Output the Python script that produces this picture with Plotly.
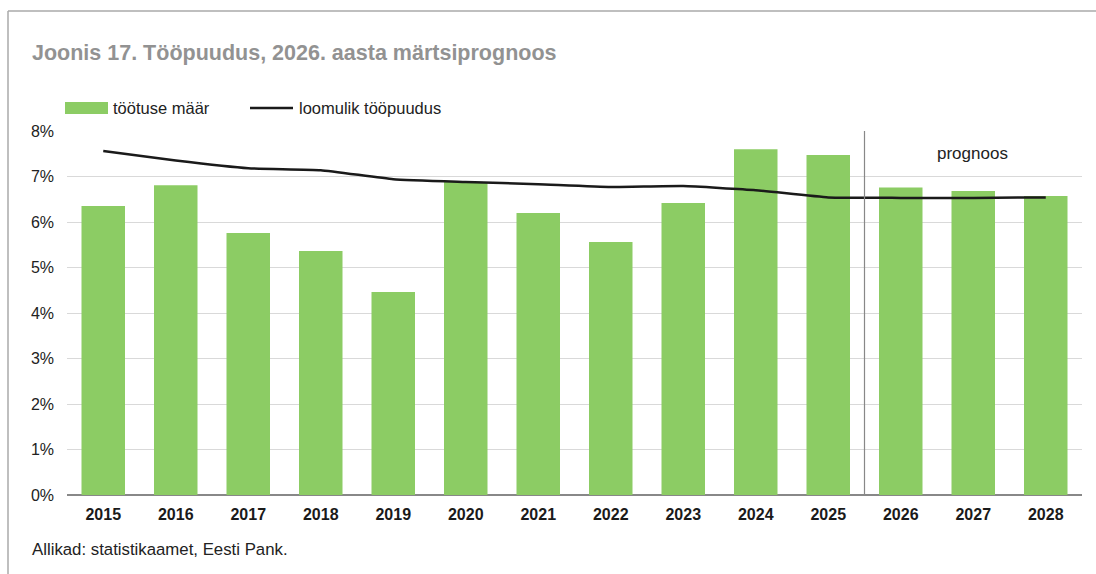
import plotly.graph_objects as go

years = ["2015", "2016", "2017", "2018", "2019", "2020", "2021",
         "2022", "2023", "2024", "2025", "2026", "2027", "2028"]
unemployment = [6.35, 6.81, 5.76, 5.36, 4.46, 6.88, 6.20,
                5.56, 6.42, 7.60, 7.47, 6.76, 6.68, 6.57]
natural_rate = [7.56, 7.35, 7.18, 7.14, 6.94, 6.88, 6.83,
                6.77, 6.79, 6.70, 6.54, 6.53, 6.53, 6.54]
y_ticks = [0, 1, 2, 3, 4, 5, 6, 7, 8]
y_tick_labels = [f"{v}%" for v in y_ticks]

W, H = 1096, 574
L, R, T, B = 67, 14, 131, 79
PW, PH = W - L - R, H - T - B

def px(x):
    return (x - L) / PW

def py(y):
    return (H - B - y) / PH

FONT = "Liberation Sans, Arial, Helvetica, sans-serif"
GREEN = "#8ccc64"

fig = go.Figure()
fig.add_trace(go.Bar(x=years, y=unemployment, name="töötuse määr",
                     marker=dict(color=GREEN, line=dict(width=0)),
                     width=0.6, showlegend=False))
fig.add_trace(go.Scatter(x=years, y=natural_rate, name="loomulik tööpuudus",
                         mode="lines", line=dict(color="#1a1a1a", width=2.5,
                                                 shape="spline", smoothing=0.4),
                         showlegend=False))

shapes = [
    # frame lines
    dict(type="line", xref="paper", yref="paper", x0=px(8), x1=px(W), y0=py(11), y1=py(11),
         line=dict(color="#aaaaaa", width=1.5)),
    dict(type="line", xref="paper", yref="paper", x0=px(8), x1=px(8), y0=py(11), y1=py(H),
         line=dict(color="#aaaaaa", width=1.5)),
    # forecast separator
    dict(type="line", xref="x", yref="y", x0=10.5, x1=10.5, y0=0, y1=8,
         line=dict(color="#888888", width=1.2)),
    # custom legend
    dict(type="rect", xref="paper", yref="paper", x0=px(65), x1=px(108), y0=py(114), y1=py(102),
         fillcolor=GREEN, line=dict(width=0)),
    dict(type="line", xref="paper", yref="paper", x0=px(250), x1=px(293), y0=py(108), y1=py(108),
         line=dict(color="#1a1a1a", width=2.5)),
]

annotations = [
    dict(text="<b>Joonis 17. Tööpuudus, 2026. aasta märtsiprognoos</b>", xref="paper", yref="paper",
         x=px(30), y=py(53), xanchor="left", yanchor="middle", showarrow=False,
         font=dict(family=FONT, size=21.5, color="#929292")),
    dict(text="töötuse määr", xref="paper", yref="paper", x=px(111), y=py(108),
         xanchor="left", yanchor="middle", showarrow=False,
         font=dict(family=FONT, size=16.5, color="#222222")),
    dict(text="loomulik tööpuudus", xref="paper", yref="paper", x=px(297), y=py(108),
         xanchor="left", yanchor="middle", showarrow=False,
         font=dict(family=FONT, size=16.5, color="#222222")),
    dict(text="prognoos", xref="paper", yref="paper", x=px(972), y=py(153),
         xanchor="center", yanchor="middle", showarrow=False,
         font=dict(family=FONT, size=17, color="#222222")),
    dict(text="Allikad: statistikaamet, Eesti Pank.", xref="paper", yref="paper",
         x=px(30), y=py(549), xanchor="left", yanchor="middle", showarrow=False,
         font=dict(family=FONT, size=16.8, color="#222222")),
]

fig.update_layout(
    width=W, height=H,
    margin=dict(l=L, r=R, t=T, b=B, autoexpand=False),
    paper_bgcolor="white", plot_bgcolor="white",
    font=dict(family=FONT, size=16, color="#222222"),
    bargap=0.4,
    shapes=shapes, annotations=annotations,
    showlegend=False,
)
fig.update_xaxes(type="category", range=[-0.5, 13.5], showgrid=False, showline=False,
                 ticks="", ticklabelstandoff=8,
                 tickfont=dict(family=FONT, size=16, color="#1a1a1a", weight="bold"))
fig.update_yaxes(range=[0, 8], tickvals=y_ticks, ticktext=y_tick_labels,
                 showgrid=True, gridcolor="#d9d9d9", gridwidth=1.2,
                 zeroline=True, zerolinecolor="#888888", zerolinewidth=1.5,
                 showline=False, ticks="", ticklabelstandoff=12,
                 tickfont=dict(family=FONT, size=16, color="#222222"))

fig.write_html("out.html", config={"displayModeBar": False},
               post_script="document.body.style.margin='0';document.body.style.overflow='hidden';")
